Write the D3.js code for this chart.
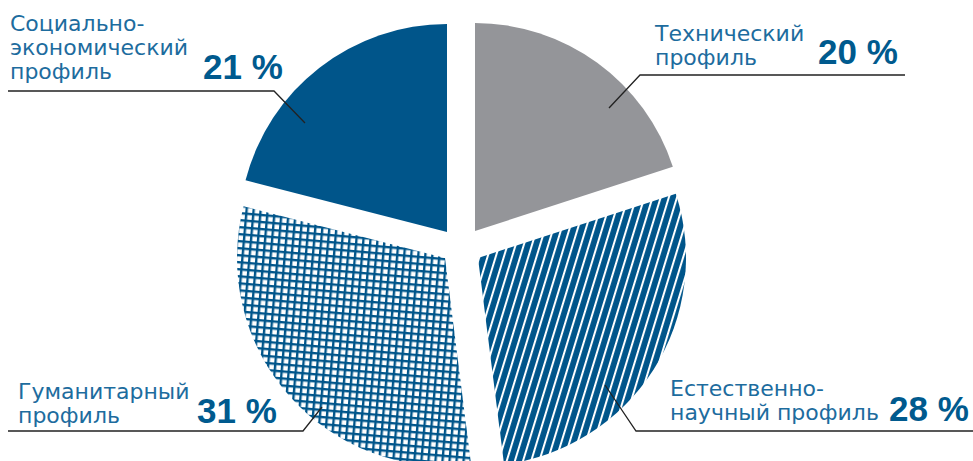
<!DOCTYPE html>
<meta charset="utf-8">
<head>
    <script src="https://d3js.org/d3.v7.min.js"></script>
    <style>
        body { margin: 0; background: #fff; }
        .lbl { font-family: "DejaVu Sans", sans-serif; font-size: 22px; fill: #1d6c9e; }
        .pct { font-family: "Liberation Sans", Arial, sans-serif; font-size: 35px; font-weight: bold; fill: #005a8e; }
    </style>
</head>
<body>
<div id="my_dataviz"></div>
</body>

<script>

    // data (clockwise from 12 o'clock)
    var categories = ["Технический профиль", "Естественно-научный профиль", "Гуманитарный профиль", "Социально-экономический профиль"];
    var labelLines = [
        ["Технический", "профиль"],
        ["Естественно-", "научный профиль"],
        ["Гуманитарный", "профиль"],
        ["Социально-", "экономический", "профиль"]
    ];
    var values = [20, 28, 31, 21];

    var width = 973, height = 461;
    var cx = 461, cy = 245, radius = 208;

    // how far each slice is pulled out
    var offsets = [[14, -14], [17, 13], [-16, 13], [-14, -13]];

    var svg = d3.select("#my_dataviz")
        .append("svg")
        .attr("width", width)
        .attr("height", height);

    // patterns
    var defs = svg.append("defs");

    var stripes = defs.append("pattern")
        .attr("id", "stripes")
        .attr("patternUnits", "userSpaceOnUse")
        .attr("width", 7.8)
        .attr("height", 20)
        .attr("patternTransform", "rotate(17)");
    stripes.append("rect").attr("width", 7.8).attr("height", 20).attr("fill", "#00558a");
    stripes.append("rect").attr("x", 0).attr("width", 2).attr("height", 20).attr("fill", "#fff");

    var grid = defs.append("pattern")
        .attr("id", "grid")
        .attr("patternUnits", "userSpaceOnUse")
        .attr("width", 7)
        .attr("height", 7)
        .attr("patternTransform", "rotate(5)");
    grid.append("rect").attr("width", 7).attr("height", 7).attr("fill", "#fff");
    grid.append("rect").attr("width", 2.4).attr("height", 7).attr("fill", "#00558a");
    grid.append("rect").attr("width", 7).attr("height", 2.4).attr("fill", "#00558a");

    var fills = ["#949599", "url(#stripes)", "url(#grid)", "#00558a"];

    var pie = d3.pie().sort(null).value(function(d) { return d; });
    var arc = d3.arc().innerRadius(0).outerRadius(radius);

    svg.append("g")
        .attr("transform", "translate(" + cx + "," + cy + ")")
        .selectAll("path")
        .data(pie(values))
        .enter().append("path")
        .attr("transform", function(d, i) { return "translate(" + offsets[i][0] + "," + offsets[i][1] + ")"; })
        .attr("d", arc)
        .attr("fill", function(d, i) { return fills[i]; });

    // labels: text x, first baseline, line step, percent x/baseline, leader line points
    var labelLayout = [
        {x: 655, y: 41, step: 24, px: 818, py: 64, line: [[905, 75], [640, 75], [609, 108]]},
        {x: 670, y: 396, step: 24, px: 889, py: 421, line: [[973, 431], [636, 431], [605, 385]]},
        {x: 18, y: 399, step: 24, px: 197, py: 423, line: [[8, 431], [303, 431], [322, 407]]},
        {x: 10, y: 31, step: 24, px: 203, py: 79, line: [[8, 91], [274, 91], [305, 123]]}
    ];

    var lbl = svg.append("g");

    labelLines.forEach(function(lines, i) {
        var L = labelLayout[i];
        lbl.append("path")
            .attr("d", d3.line()(L.line))
            .attr("fill", "none")
            .attr("stroke", "#222")
            .attr("stroke-width", 1.3);

        lines.forEach(function(t, j) {
            lbl.append("text")
                .attr("class", "lbl")
                .attr("x", L.x)
                .attr("y", L.y + j * L.step)
                .text(t);
        });

        lbl.append("text")
            .attr("class", "pct")
            .attr("x", L.px)
            .attr("y", L.py)
            .text(values[i] + " %");
    });

</script>
